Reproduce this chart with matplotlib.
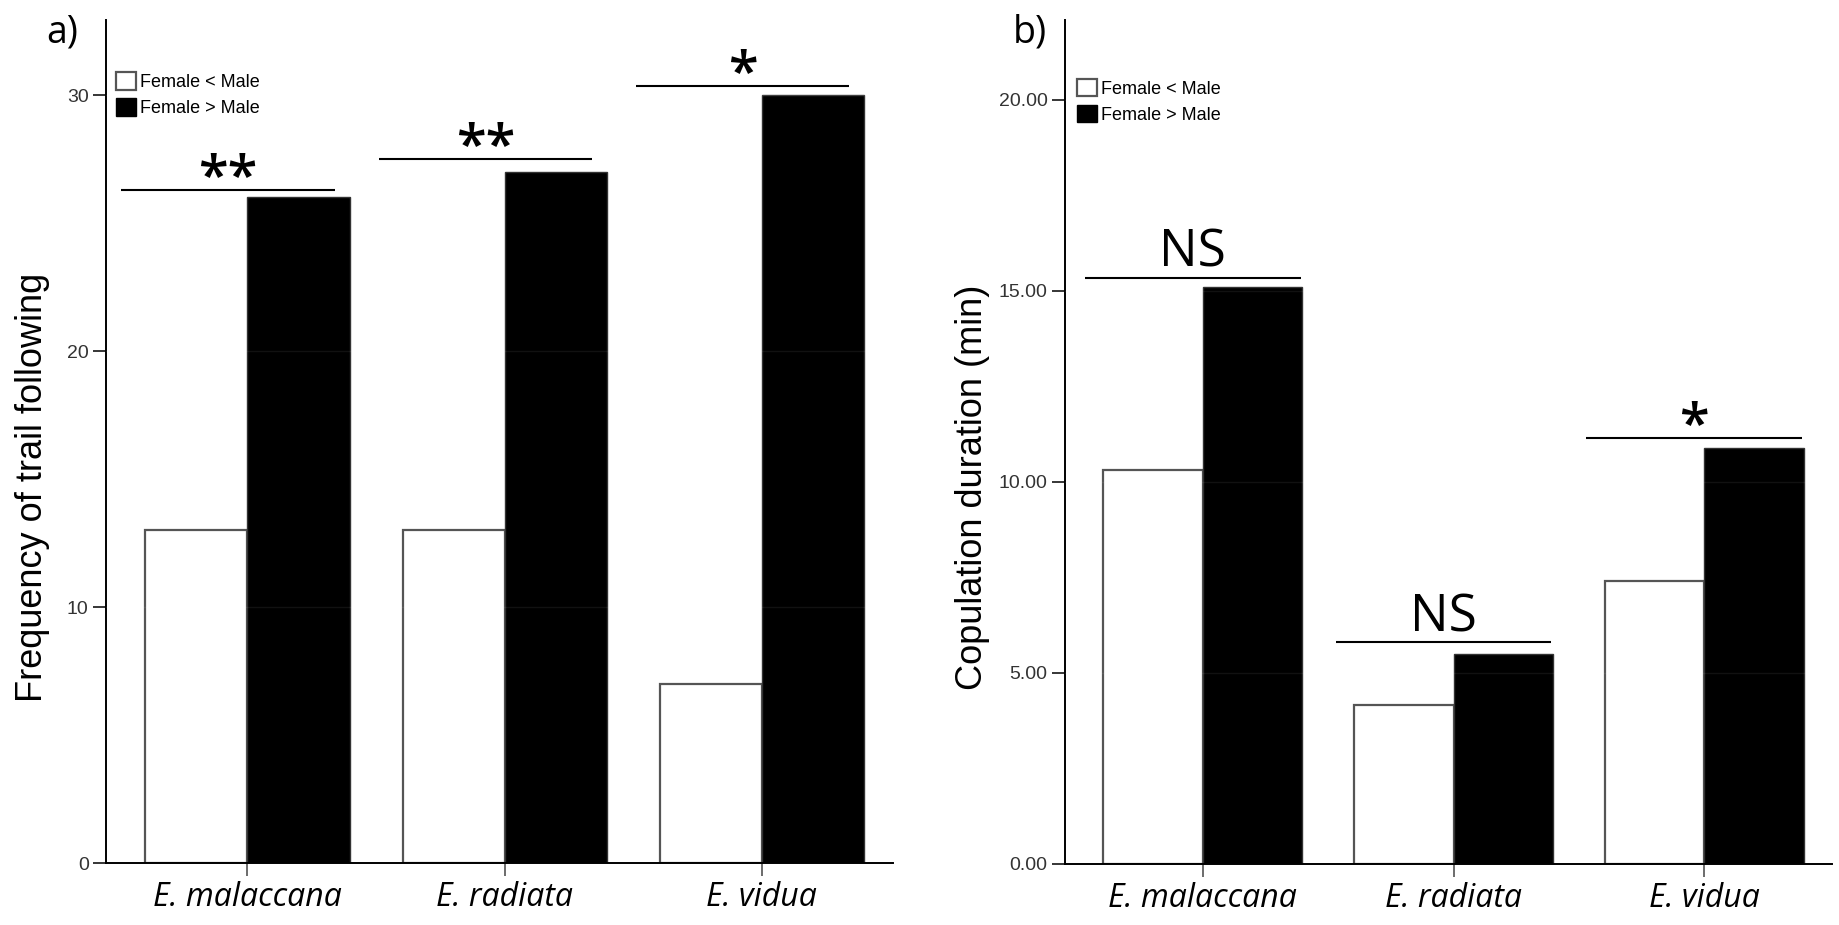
import matplotlib
matplotlib.use("Agg")
import matplotlib.pyplot as plt
from matplotlib.patches import Patch
import numpy as np

# Data
species = ["E. malaccana", "E. radiata", "E. vidua"]
legend_labels = ["Female < Male", "Female > Male"]

trail_lt = [13, 13, 7]
trail_gt = [26, 27, 30]
trail_sig = ["**", "**", "*"]
trail_sig_y = [26.3, 27.5, 30.35]

cop_lt = [10.3, 4.15, 7.4]
cop_gt = [15.1, 5.5, 10.9]
cop_sig = ["NS", "NS", "*"]
cop_sig_y = [15.35, 5.8, 11.15]

W, H = 1839, 925
DPI = 100
TICK_FONT = "Liberation Sans"
TEXT_FONT = "Open Sans"


def px(x, y):
    # pixel position -> figure fraction
    return x / W, 1 - y / H


def draw_panel(ax, lt, gt, sig, sig_y, ylim, yticks, yticklabels, span, legend_anchor):
    x = np.arange(len(species))
    w = 0.397
    ax.bar(x - w / 2, lt, w, color="white", edgecolor="#555555", linewidth=1.6, zorder=2)
    ax.bar(x + w / 2, gt, w, color="black", edgecolor="#333333", linewidth=1.0, zorder=2)

    # faint reference lines, only visible over the black bars
    for t in yticks[1:]:
        ax.axhline(t, color="white", alpha=0.07, linewidth=1.0, zorder=3)

    ax.set_xlim(-0.55, 2.51)
    ax.set_ylim(*ylim)
    ax.set_yticks(yticks)
    ax.set_yticklabels(yticklabels, fontfamily=TICK_FONT, fontsize=14, color="#333333")
    ax.set_xticks(x)
    ax.set_xticklabels(species, fontfamily=TEXT_FONT, fontstyle="italic", fontsize=23)

    for s in ["top", "right"]:
        ax.spines[s].set_visible(False)
    for s in ["left", "bottom"]:
        ax.spines[s].set_linewidth(1.4)
    ax.tick_params(axis="y", length=9.5, width=1.1, pad=3)
    ax.tick_params(axis="x", length=9, width=1.1, color="#444444", pad=4)

    for i in range(len(species)):
        ax.hlines(sig_y[i], x[i] + span[0], x[i] + span[1], color="black", linewidth=1.5)
        if sig[i] == "NS":
            off = (ylim[1] - ylim[0]) * 0.013
            ax.text(x[i] + (span[0] + span[1]) / 2, sig_y[i] + off, sig[i],
                    ha="center", va="baseline", fontfamily=TEXT_FONT, fontsize=37)
        else:
            off = (ylim[1] - ylim[0]) * 0.004
            ax.text(x[i] + (span[0] + span[1]) / 2, sig_y[i] - off, sig[i],
                    ha="center", va="baseline", fontfamily=TEXT_FONT, fontsize=39,
                    fontweight="semibold")

    handles = [Patch(facecolor="white", edgecolor="#555555", linewidth=1.6),
               Patch(facecolor="black", edgecolor="black")]
    ax.legend(handles, legend_labels, loc="upper left", bbox_to_anchor=legend_anchor,
              frameon=False, borderpad=0, borderaxespad=0, handlelength=1.1,
              handleheight=1.1, handletextpad=0.25, labelspacing=0.4,
              prop={"family": TICK_FONT, "size": 13})


fig = plt.figure(figsize=(W / DPI, H / DPI), dpi=DPI)

l, b = px(106, 863)
r, t = px(893, 20)
ax1 = fig.add_axes([l, b, r - l, t - b])
draw_panel(ax1, trail_lt, trail_gt, trail_sig, trail_sig_y, (0, 32.93),
           [0, 10, 20, 30], ["0", "10", "20", "30"], (-0.49, 0.34), (0.0127, 0.938))

l, b = px(1065, 864)
r, t = px(1832, 20)
ax2 = fig.add_axes([l, b, r - l, t - b])
draw_panel(ax2, cop_lt, cop_gt, cop_sig, cop_sig_y, (0, 22.09),
           [0, 5, 10, 15, 20], ["0.00", "5.00", "10.00", "15.00", "20.00"],
           (-0.47, 0.39), (0.0156, 0.93))

fig.text(*px(33, 487), "Frequency of trail following", rotation=90, ha="center",
         va="center", fontfamily=TICK_FONT, fontsize=26)
fig.text(*px(972, 487), "Copulation duration (min)", rotation=90, ha="center",
         va="center", fontfamily=TICK_FONT, fontsize=26)

fig.text(*px(62, 33), "a)", ha="center", va="center", fontfamily=TEXT_FONT, fontsize=27)
fig.text(*px(1030, 33), "b)", ha="center", va="center", fontfamily=TEXT_FONT, fontsize=27)

fig.savefig("out.png", dpi=DPI)
